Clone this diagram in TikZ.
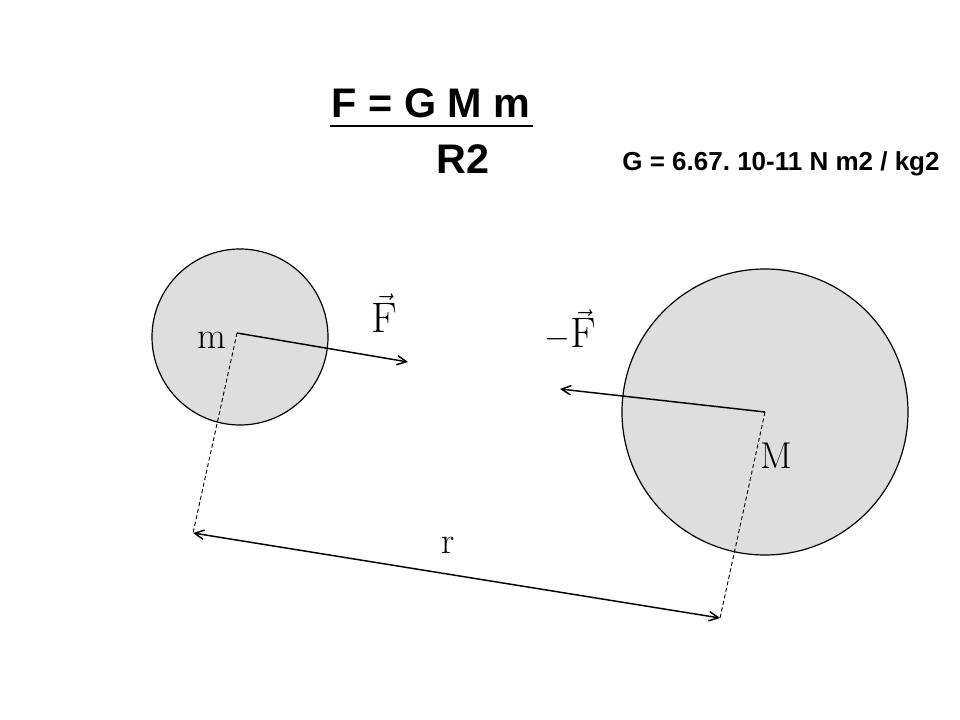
\documentclass[tikz,border=0pt]{standalone}
\usepackage{fontspec}
\newfontfamily\arial{Liberation Sans}
\usetikzlibrary{arrows.meta}
\frenchspacing
\begin{document}
\begin{tikzpicture}[x=0.75pt,y=-0.75pt,
  body/.style={draw=black,fill=black!13,line width=0.9pt},
  force/.style={line width=1.1pt,-{Straight Barb[length=7pt,width=7pt]}},
  dim/.style={line width=1.1pt,{Straight Barb[length=7pt,width=7pt]}-{Straight Barb[length=7pt,width=7pt]}},
  dashline/.style={dashed,dash pattern=on 3pt off 2pt,line width=0.7pt},
  lab/.style={font=\fontsize{28}{32}\selectfont,inner sep=0pt}]
\useasboundingbox (0,0) rectangle (960,720);
\draw[body] (240,337) circle (88);
\draw[body] (765,412) circle (143);
\coordinate (cm) at (237,333);
\coordinate (cM) at (765,412);
\coordinate (fe) at (408,362);
\coordinate (me) at (560,389);
\coordinate (ra) at (193,533);
\coordinate (rb) at (720,618);
\draw[force] (cm) -- (fe);
\draw[force] (cM) -- (me);
\draw[dashline] (cm) -- (ra);
\draw[dashline] (cM) -- (rb);
\draw[dim] (ra) -- (rb);
\node[lab] (m) at (212,340) {m};
\node[lab] (M) at (776,456) {M};
\node[lab] (r) at (448,545) {r};
\node[lab,font=\fontsize{32}{36}\selectfont] (F) at (384,313) {$\vec{\mathrm{F}}$};
\node[lab,font=\fontsize{32}{36}\selectfont] (mF) at (570,330) {$-\vec{\mathrm{F}}$};
\node[font=\arial\bfseries\fontsize{31}{34}\selectfont] (num) at (431,103) {F = G M m};
\draw[line width=2pt] (330,126) -- (533,126);
\node[font=\arial\bfseries\fontsize{31}{34}\selectfont] (den) at (463,159) {R2};
\node[font=\arial\bfseries\fontsize{19.5}{22}\selectfont] (G) at (781,164) {G = 6.67. 10-11 N m2 / kg2};
\end{tikzpicture}
\end{document}
